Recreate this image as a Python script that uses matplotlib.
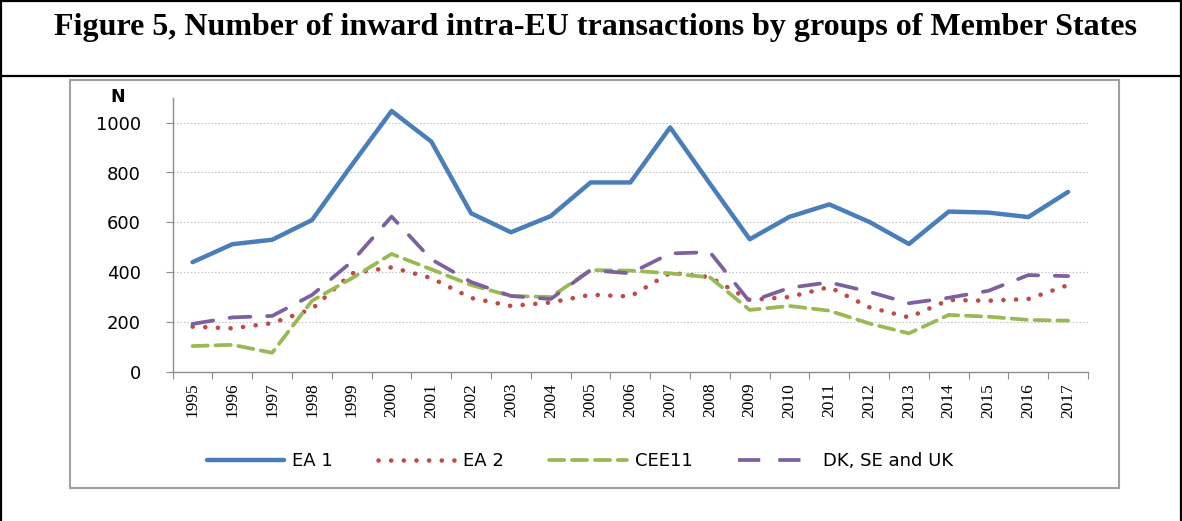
import numpy as np
import matplotlib
matplotlib.use('Agg')
import matplotlib.pyplot as plt
from matplotlib.lines import Line2D

# Data.
years = [str(y) for y in range(1995, 2018)]
ea1 = [440, 512, 530, 609, 830, 1047, 924, 636, 560, 625, 760, 760, 981, 755,
       532, 622, 672, 602, 513, 643, 639, 621, 722]
ea2 = [181, 174, 195, 252, 395, 419, 376, 296, 264, 278, 309, 302, 397, 380,
       288, 300, 340, 259, 218, 288, 285, 292, 348]
cee11 = [103, 108, 76, 285, 375, 473, 411, 348, 304, 300, 408, 406, 395, 379,
         248, 264, 245, 194, 154, 228, 221, 208, 205]
dksu = [192, 218, 224, 308, 442, 623, 451, 360, 304, 292, 408, 395, 475, 480,
        281, 337, 359, 321, 275, 297, 325, 388, 384]
series_names = ['EA 1', 'EA 2', 'CEE11', 'DK, SE and UK']
y_ticks = [0, 200, 400, 600, 800, 1000]
title = 'Figure 5, Number of inward intra-EU transactions by groups of Member States'

W, H = 1182, 521
plt.rcParams['lines.scale_dashes'] = False
plt.rcParams['font.family'] = ['DejaVu Sans']

def px(x):
  return x / W

def py(y):
  return 1 - y / H

fig = plt.figure(figsize=(W / 100, H / 100), dpi=100)

# Outer table frame.
for (x0, y0, x1, y1) in [(1, 1, 1181, 1), (1, 1, 1, 521), (1180.5, 1, 1180.5, 521),
                         (1, 76, 1181, 76)]:
  fig.add_artist(Line2D([px(x0), px(x1)], [py(y0), py(y1)], color='black', lw=1.6))

fig.text(px(595), py(28), title, ha='center', va='center', fontsize=23,
         fontweight='bold', family='Liberation Serif')

# Chart box.
fig.add_artist(plt.Rectangle((px(70), py(488)), px(1119) - px(70), py(80) - py(488),
                             fill=False, edgecolor='#a0a0a0', lw=1.5))

ax = fig.add_axes([px(172.7), py(371.7), px(1088) - px(172.7), py(97.8) - py(371.7)])
x = np.arange(len(years))

styles = [
  dict(color='#4a7ebb', lw=3.2, linestyle='-', solid_capstyle='round',
       solid_joinstyle='round'),
  dict(color='#be4b48', lw=3.3, linestyle=(0, (0.1, 9)), dash_capstyle='round'),
  dict(color='#98b954', lw=2.7, linestyle=(0, (11, 5.5)), dash_capstyle='round',
       dash_joinstyle='round'),
  dict(color='#7d60a0', lw=2.7, linestyle=(0, (15, 12)), dash_capstyle='round',
       dash_joinstyle='round'),
]
for vals, name, st in zip([ea1, ea2, cee11, dksu], series_names, styles):
  ax.plot(x, vals, label=name, **st)

ax.set_xlim(-0.5, len(years) - 0.5)
ax.set_ylim(0, 1100)

# Ticks between categories, labels at category centres.
ax.set_xticks(np.arange(-0.5, len(years), 1))
ax.set_xticklabels([])
ax.set_xticks(x, minor=True)
ax.set_xticklabels(years, minor=True, rotation=90, family='Liberation Serif',
                   fontsize=12.5, va='top')
ax.tick_params(axis='x', which='major', length=5, color='#8c8c8c', direction='out')
ax.tick_params(axis='x', which='minor', length=0, pad=8)

ax.set_yticks(y_ticks)
ax.set_yticklabels([str(v) for v in y_ticks], fontsize=13)
ax.tick_params(axis='y', length=5, color='#8c8c8c', pad=18)

for v in y_ticks[1:]:
  ax.axhline(v, color='#bfbfbf', lw=0.8, linestyle=(0, (1, 1.5)), zorder=0)

for s in ['top', 'right']:
  ax.spines[s].set_visible(False)
for s in ['left', 'bottom']:
  ax.spines[s].set_color('#8c8c8c')
  ax.spines[s].set_linewidth(1)

fig.text(px(118), py(97), 'N', ha='center', va='center', fontsize=12.5, fontweight='bold')

# Legend proxies, the last one with two whole dashes like the original.
handles = []
for i, st in enumerate(styles):
  st = dict(st)
  if i == 3:
    st['linestyle'] = (0, (16, 13))
    st['dash_capstyle'] = 'butt'
  handles.append(Line2D([], [], **st))
leg = fig.legend(handles, series_names, loc='center', bbox_to_anchor=(px(580), py(461)),
                 ncol=4, frameon=False, fontsize=13, handlelength=4.27,
                 handletextpad=0.45, columnspacing=2.5)

fig.savefig('out.png', dpi=100)
